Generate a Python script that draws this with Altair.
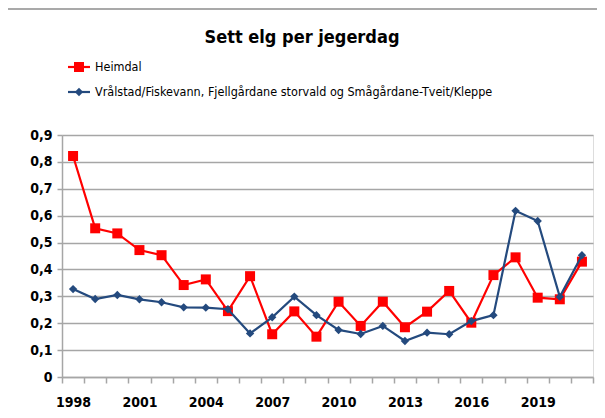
import altair as alt
import pandas as pd

years = list(range(1998, 2022))
heimdal = [0.822, 0.553, 0.534, 0.472, 0.453, 0.342, 0.363, 0.245, 0.375, 0.159,
           0.244, 0.150, 0.280, 0.190, 0.280, 0.185, 0.243, 0.320, 0.202, 0.379,
           0.445, 0.295, 0.289, 0.429]
vralstad = [0.327, 0.290, 0.305, 0.289, 0.278, 0.259, 0.258, 0.252, 0.162, 0.222,
            0.299, 0.230, 0.175, 0.160, 0.190, 0.134, 0.165, 0.159, 0.208, 0.230,
            0.618, 0.580, 0.298, 0.453]
series_names = ["Heimdal",
                "Vrålstad/Fiskevann, Fjellgårdane storvald og Smågårdane-Tveit/Kleppe"]
colors = ["#FF0000", "#244A7E"]
title_text = "Sett elg per jegerdag"

df = pd.DataFrame({
    "year": years * 2,
    "series": [series_names[0]] * len(years) + [series_names[1]] * len(years),
    "value": heimdal + vralstad,
})

FONT = "DejaVu Sans Condensed, Liberation Sans Narrow, sans-serif"
GRID = "#A6A6A6"

x_enc = alt.X("year:O",
              scale=alt.Scale(paddingInner=0, paddingOuter=0),
              axis=alt.Axis(title=None, labelAngle=0, tickBand="extent",
                            labelExpr="(datum.value - 1998) % 3 == 0 ? datum.value : ''",
                            labelFont=FONT, labelFontSize=14, labelFontWeight="bold",
                            labelColor="#000000", labelPadding=12,
                            domainColor=GRID, domainWidth=1.5,
                            tickColor=GRID, tickWidth=1.5, tickSize=6, grid=False))
y_enc = alt.Y("value:Q",
              scale=alt.Scale(domain=[0, 0.9], nice=False, zero=True),
              axis=alt.Axis(title=None, values=[0, 0.1, 0.2, 0.3, 0.4, 0.5, 0.6, 0.7, 0.8, 0.9],
                            labelExpr="replace(format(datum.value, '.1~f'), '.', ',')",
                            labelFont=FONT, labelFontSize=14, labelFontWeight="bold",
                            labelColor="#000000", labelPadding=5,
                            domainColor=GRID, domainWidth=1.5,
                            tickColor=GRID, tickWidth=1.5, tickSize=5,
                            gridColor=GRID, gridWidth=1.5))

# outer frame (top and left edges; right/bottom fall outside the picture)
one = alt.Chart(pd.DataFrame({"a": [0]}))
frame_top = one.mark_rule(color="#8C8C8C", strokeWidth=1.5).encode(
    x=alt.value(-55), x2=alt.value(560), y=alt.value(-126))
frame_left = one.mark_rule(color="#8C8C8C", strokeWidth=1.5).encode(
    x=alt.value(-55), y=alt.value(-126), y2=alt.value(300))

layers = []
shapes = ["square", "diamond"]
sizes = [100, 70]
for name, col, shp, sz in zip(series_names, colors, shapes, sizes):
    base = alt.Chart(df).transform_filter(alt.datum.series == name)
    layers.append(base.mark_line(color=col, strokeWidth=2.2).encode(x=x_enc, y=y_enc))
    layers.append(base.mark_point(color=col, filled=True, opacity=1, shape=shp, size=sz)
                  .encode(x=x_enc, y=y_enc))

# title as text
title = alt.Chart(pd.DataFrame({"t": [title_text]})).mark_text(
    align="center", baseline="middle", font=FONT, fontSize=18, fontWeight="bold",
    color="#000000"
).encode(x=alt.value(240), y=alt.value(-97), text="t:N")

# manual legend
leg_rows = []
ys = [-68, -43]
for i, (name, col, shp, sz) in enumerate(zip(series_names, colors, shapes, sizes)):
    d = alt.Chart(pd.DataFrame({"series": [name]}))
    leg_rows.append(d.mark_rule(color=col, strokeWidth=2.2).encode(
        x=alt.value(6), x2=alt.value(28), y=alt.value(ys[i])))
    leg_rows.append(d.mark_point(color=col, filled=True, opacity=1, shape=shp, size=sz).encode(
        x=alt.value(17), y=alt.value(ys[i])))
    leg_rows.append(d.mark_text(align="left", baseline="middle", font=FONT, fontSize=12.5,
                                color="#000000").encode(
        x=alt.value(33), y=alt.value(ys[i]), text="series:N"))

chart = alt.layer(frame_top, frame_left, *layers, title, *leg_rows).properties(
    width=531, height=242,
    autosize=alt.AutoSizeParams(type="none"),
    padding={"left": 54, "top": 127, "right": 4, "bottom": 35},
).configure_view(stroke=None).configure(background="white")

chart.save("out.html", embed_options={"renderer": "svg", "actions": False})
